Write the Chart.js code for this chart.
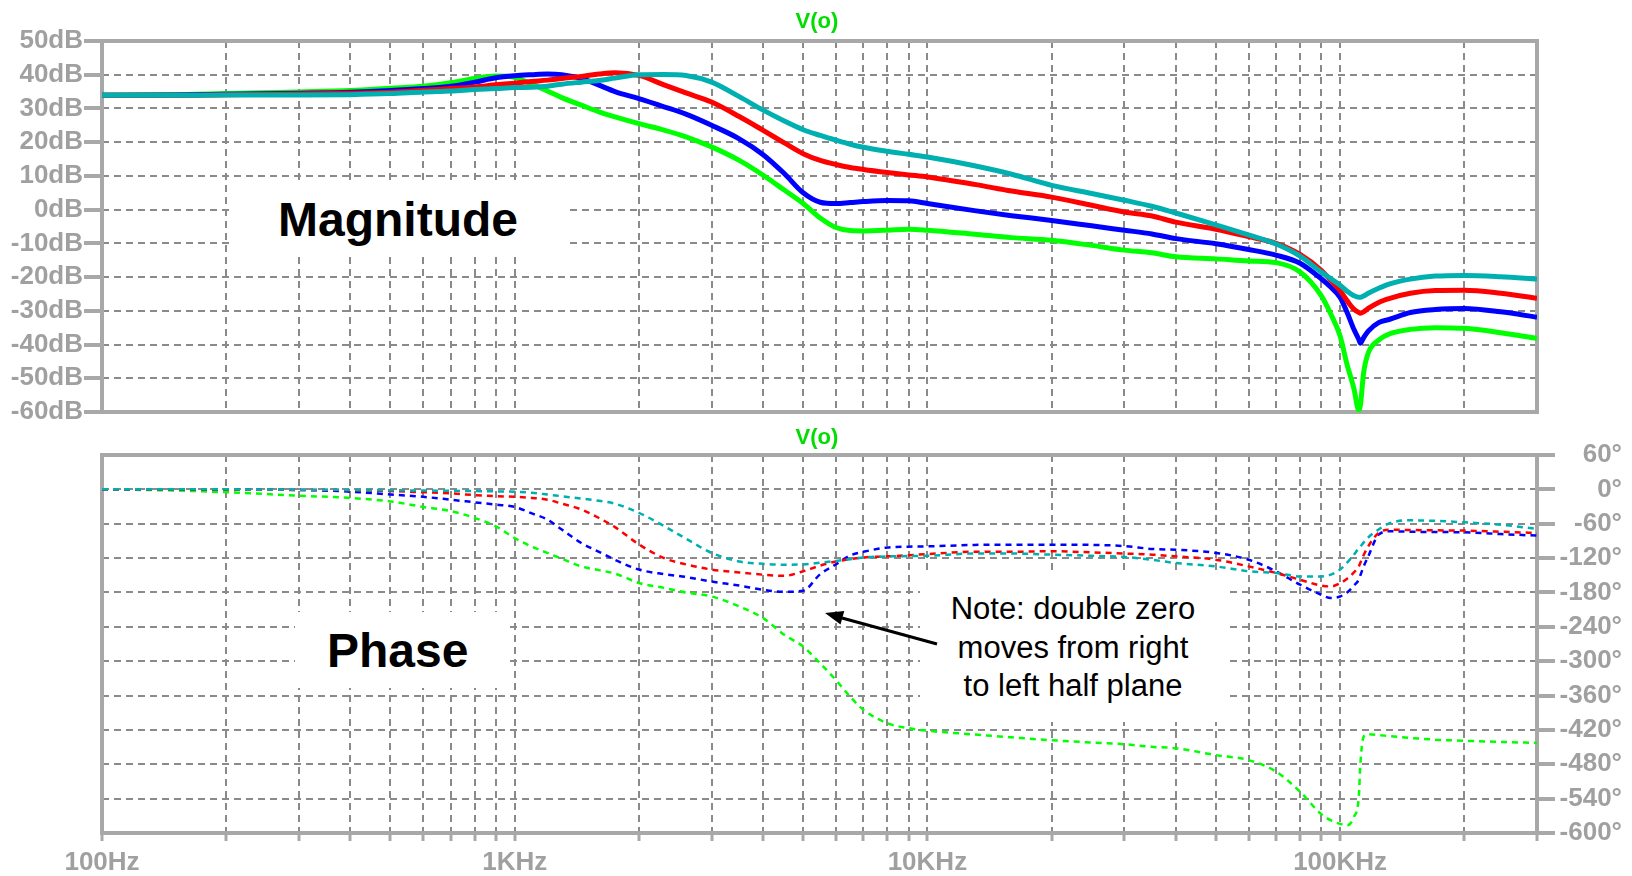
<!DOCTYPE html>
<html>
<head>
<meta charset="utf-8">
<script src="https://cdn.jsdelivr.net/npm/chart.js@4.4.1/dist/chart.umd.min.js"></script>
<style>
  body { margin: 0; background: #fff; }
  #wrap { position: relative; width: 1632px; height: 876px; overflow: hidden; font-family: "Liberation Sans", Arial, sans-serif; }
  canvas { position: absolute; left: 0; }
  #magCanvas { top: 0; }
  #phaseCanvas { top: 418px; }
  .trace { position: absolute; width: 200px; text-align: center; color: #00dd00; font-weight: bold; font-size: 22px; line-height: 22px; }
  .box { position: absolute; background: #fff; }
  .big { position: absolute; font-weight: bold; font-size: 48px; line-height: 48px; color: #000; white-space: nowrap; }
  .note { position: absolute; font-size: 31px; line-height: 38.5px; text-align: center; color: #000; white-space: nowrap; }
  svg { position: absolute; left: 0; top: 0; }
</style>
</head>
<body>
<div id="wrap">
  <canvas id="magCanvas" width="1632" height="430"></canvas>
  <canvas id="phaseCanvas" width="1632" height="458"></canvas>
  <div class="trace" style="left:717px; top:10px;">V(o)</div>
  <div class="trace" style="left:717px; top:426px;">V(o)</div>
  <div class="box" style="left:230px; top:180px; width:338px; height:77px;"></div>
  <div class="big" style="left:278px; top:196px;">Magnitude</div>
  <div class="box" style="left:295px; top:612px; width:210px; height:76px;"></div>
  <div class="big" style="left:327px; top:627px;">Phase</div>
  <div class="box" style="left:920px; top:572px; width:306px; height:150px;"></div>
  <div class="note" style="left:920px; top:590px; width:306px;">Note: double zero<br>moves from right<br>to left half plane</div>
  <svg width="1632" height="876">
    <line x1="937" y1="644" x2="842" y2="618" stroke="#000" stroke-width="3"/>
    <polygon points="825,613 844.3,611.1 840.5,624.6" fill="#000"/>
  </svg>
</div>
<script>
// frequency points (Hz) shared by all traces
var freqHz = [100, 150, 200, 300, 400, 500, 600, 700, 800, 900,
  1000, 1100, 1200, 1300, 1450, 1600, 1750, 2000, 2300, 2600,
  3000, 3500, 4000, 4500, 5000, 5500, 6000, 6500, 7000, 8000,
  9000, 10000, 13000, 16000, 20000, 25000, 30000, 35000, 40000, 50000,
  60000, 70000, 80000, 90000, 95000, 100000, 104000, 108000, 111000, 112000,
  114000, 117000, 124000, 132000, 148000, 170000, 200000, 245000, 300000];

// magnitude (dB)
var magCyan = [33.9, 33.9, 34.0, 34.0, 34.1, 34.4, 34.9, 35.2, 35.6, 35.9,
  36.2, 36.3, 36.6, 37.2, 37.8, 38.3, 39.0, 40.0, 40.1, 39.8,
  37.8, 33.5, 29.5, 26.3, 23.7, 22.0, 20.6, 19.4, 18.5, 17.3,
  16.4, 15.6, 13.0, 10.5, 7.2, 4.8, 2.8, 1.0, -1.0, -4.5,
  -7.5, -10.2, -13.8, -18.5, -20.5, -22.4, -24.2, -25.5, -26.0, -26.0,
  -25.6, -24.8, -23.3, -22.0, -20.6, -19.7, -19.5, -19.9, -20.6];
var magRed = [33.9, 33.9, 34.1, 34.3, 34.5, 34.8, 35.4, 35.9, 36.4, 37.0,
  37.5, 38.0, 38.4, 38.9, 39.5, 40.2, 40.6, 39.8, 37.0, 34.6,
  31.9, 27.6, 23.5, 19.8, 16.6, 14.6, 13.4, 12.5, 11.9, 11.0,
  10.3, 9.7, 7.5, 5.5, 3.7, 1.3, -0.7, -1.9, -3.7, -5.8,
  -8.0, -10.0, -13.3, -18.0, -21.0, -24.0, -27.0, -29.5, -30.5, -30.7,
  -30.3, -29.3, -27.5, -26.3, -24.8, -24.0, -23.9, -24.8, -26.3];
var magBlue = [33.9, 34.0, 34.2, 34.5, 34.8, 35.3, 35.9, 36.6, 37.8, 39.1,
  39.7, 40.0, 40.2, 40.0, 38.9, 36.9, 35.0, 32.9, 30.5, 28.3,
  25.0, 21.0, 16.3, 10.7, 5.0, 2.2, 1.8, 2.1, 2.4, 2.7,
  2.6, 1.8, -0.3, -1.8, -3.2, -4.8, -6.1, -7.2, -8.6, -10.1,
  -11.8, -13.5, -15.9, -20.5, -23.0, -26.0, -30.5, -35.5, -38.5, -39.6,
  -38.0, -36.0, -33.5, -32.5, -30.5, -29.6, -29.3, -30.3, -31.9];
var magGreen = [33.9, 34.1, 34.4, 34.9, 35.3, 36.0, 36.6, 37.6, 38.9, 39.6,
  39.2, 37.2, 35.2, 33.2, 31.0, 29.0, 27.5, 25.5, 23.6, 21.6,
  18.6, 14.6, 10.2, 5.8, 1.8, -2.5, -5.3, -6.2, -6.3, -6.1,
  -5.8, -6.1, -7.3, -8.3, -9.1, -10.6, -12.0, -12.8, -14.0, -14.6,
  -15.2, -15.7, -18.5, -25.5, -31.0, -37.5, -46.0, -53.0, -59.5, -58.0,
  -48.5, -42.5, -38.7, -36.8, -35.5, -35.0, -35.2, -36.5, -38.2];

// phase (degrees)
var phaseCyan = [0, 0, 0, -0.5, -1, -1.5, -2, -2.5, -3, -3.5,
  -4, -6, -9, -12, -16, -20, -25, -41, -64, -86,
  -111, -126, -130, -131.5, -131, -128, -125, -122, -119, -117,
  -116.5, -116, -112, -112, -114, -116, -118, -123, -128.6, -134.5,
  -143, -146, -152, -152, -149, -140, -128, -114, -103, -100,
  -93, -84, -70, -59, -54, -55, -57.6, -61.6, -69];
var phaseRed = [0, 0, -0.5, -1, -1.5, -3, -5, -7, -10, -12,
  -13, -15, -18, -25, -35, -50, -66, -96, -120, -131,
  -140, -145, -149, -151, -143, -133, -126, -122, -119, -117,
  -115, -113, -109, -109, -108, -110, -112, -114, -117, -122.8,
  -134.5, -146, -157.8, -168, -169.5, -164, -156, -145, -134.5, -128,
  -115, -99.5, -76, -70.3, -71, -71.5, -72, -74, -76];
var phaseBlue = [0, 0, -0.5, -1, -4, -9, -13, -18, -22.6, -26.6,
  -30.6, -42, -52.8, -70, -93.6, -109, -123, -140, -148, -153,
  -161, -168, -175.4, -179, -177, -148, -131, -115.5, -109, -101.5,
  -100, -99.5, -97, -96.5, -96.5, -97, -99, -104, -105.4, -111,
  -122.8, -143.2, -166.5, -184, -189.8, -187, -180, -168, -157.8, -150,
  -135, -117, -79, -73.3, -74, -74.5, -75, -78, -80.8];
var phaseGreen = [0, -2, -5, -11, -15, -21, -30.7, -38, -50, -64.5,
  -85, -100, -111, -121, -134.5, -141, -147, -163.5, -172, -180,
  -187, -204.5, -224.8, -254, -274.5, -304, -332.7, -362, -385, -408.4,
  -417, -421.4, -428, -433, -438, -442, -445, -449.6, -452, -464,
  -472.7, -493, -528, -567, -578, -584, -586.6, -572, -537, -478.6,
  -432, -427.4, -429, -431, -434, -437, -439, -441, -442.7];

// axis ticks
var freqTickValues = [100, 1000, 10000, 100000];
var freqTickLabels = ['100Hz', '1KHz', '10KHz', '100KHz'];
var freqMin = 100, freqMax = 300000;
var magMin = -60, magMax = 50, magStep = 10;
var phaseMin = -600, phaseMax = 60, phaseStep = 60;

// grid lines at 1..9 of every decade
var freqGrid = [];
freqTickValues.forEach(function (d) {
    for (var m = 1; m <= 9; m++) {
        if (m * d <= freqMax) freqGrid.push(m * d);
    }
});

var labelFont = { family: '"Liberation Sans", Arial, sans-serif', size: 26, weight: 'bold' };
var labelColor = '#a0a0a0';
var gridColor = '#8a8a8a';
var frameColor = '#a8a8a8';

function series(values, color, dashed) {
    return {
        data: freqHz.map(function (f, i) { return { x: f, y: values[i] }; }),
        borderColor: color,
        borderWidth: dashed ? 2.5 : 5,
        borderDash: dashed ? [6, 5] : [],
        pointRadius: 0,
        cubicInterpolationMode: 'monotone',
        fill: false
    };
}

function freqAxis(showLabels) {
    return {
        type: 'logarithmic',
        min: freqMin,
        max: freqMax,
        afterBuildTicks: function (axis) {
            axis.ticks = freqGrid.map(function (v) { return { value: v }; });
        },
        afterFit: function (axis) {
            axis.height = showLabels ? 43 : 0;
        },
        ticks: {
            display: showLabels,
            autoSkip: false,
            maxRotation: 0,
            minRotation: 0,
            padding: 6,
            color: labelColor,
            font: labelFont,
            callback: function (v) {
                var i = freqTickValues.indexOf(v);
                return i >= 0 ? freqTickLabels[i] : '';
            }
        },
        grid: { color: gridColor, lineWidth: 2, drawTicks: showLabels, tickLength: 8, tickWidth: 3, tickColor: frameColor },
        border: { display: false, dash: [7, 5] }
    };
}

// grey frame round the plot area
var framePlugin = {
    id: 'frame',
    beforeDatasetsDraw: function (chart) {
        var a = chart.chartArea;
        var ctx = chart.ctx;
        ctx.save();
        ctx.strokeStyle = frameColor;
        ctx.lineWidth = 4;
        ctx.strokeRect(a.left, a.top, a.right - a.left, a.bottom - a.top);
        ctx.restore();
    }
};

var baseOptions = {
    responsive: false,
    animation: false,
    events: [],
    plugins: { legend: { display: false }, tooltip: { enabled: false } }
};

var magChart = new Chart(document.getElementById('magCanvas'), {
    type: 'line',
    data: {
        datasets: [
            series(magCyan, '#00b0b0', false),
            series(magRed, '#ff0000', false),
            series(magBlue, '#0000ff', false),
            series(magGreen, '#00ff00', false)
        ]
    },
    options: Object.assign({}, baseOptions, {
        layout: { padding: { top: 41, right: 95, bottom: 18, left: 0 } },
        scales: {
            x: freqAxis(false),
            y: {
                position: 'left',
                min: magMin,
                max: magMax,
                afterFit: function (axis) { axis.width = 102; },
                ticks: {
                    stepSize: magStep,
                    autoSkip: false,
                    padding: 1,
                    color: labelColor,
                    font: labelFont,
                    callback: function (v) { return v + 'dB'; }
                },
                grid: { color: gridColor, lineWidth: 2, tickLength: 18, tickWidth: 4, tickColor: frameColor },
                border: { display: false, dash: [7, 5] }
            }
        }
    }),
    plugins: [framePlugin]
});

var phaseChart = new Chart(document.getElementById('phaseCanvas'), {
    type: 'line',
    data: {
        datasets: [
            series(phaseCyan, '#00b0b0', true),
            series(phaseRed, '#ff0000', true),
            series(phaseBlue, '#0000ff', true),
            series(phaseGreen, '#00ff00', true)
        ]
    },
    options: Object.assign({}, baseOptions, {
        layout: { padding: { top: 37, right: 10, bottom: 0, left: 102 } },
        scales: {
            x: freqAxis(true),
            y: {
                position: 'right',
                min: phaseMin,
                max: phaseMax,
                afterFit: function (axis) { axis.width = 85; },
                ticks: {
                    stepSize: phaseStep,
                    autoSkip: false,
                    crossAlign: 'far',
                    padding: 2,
                    color: labelColor,
                    font: labelFont,
                    callback: function (v) { return v + '°'; }
                },
                grid: { color: gridColor, lineWidth: 2, tickLength: 18, tickWidth: 4, tickColor: frameColor },
                border: { display: false, dash: [7, 5] }
            }
        }
    }),
    plugins: [framePlugin]
});
</script>
</body>
</html>
